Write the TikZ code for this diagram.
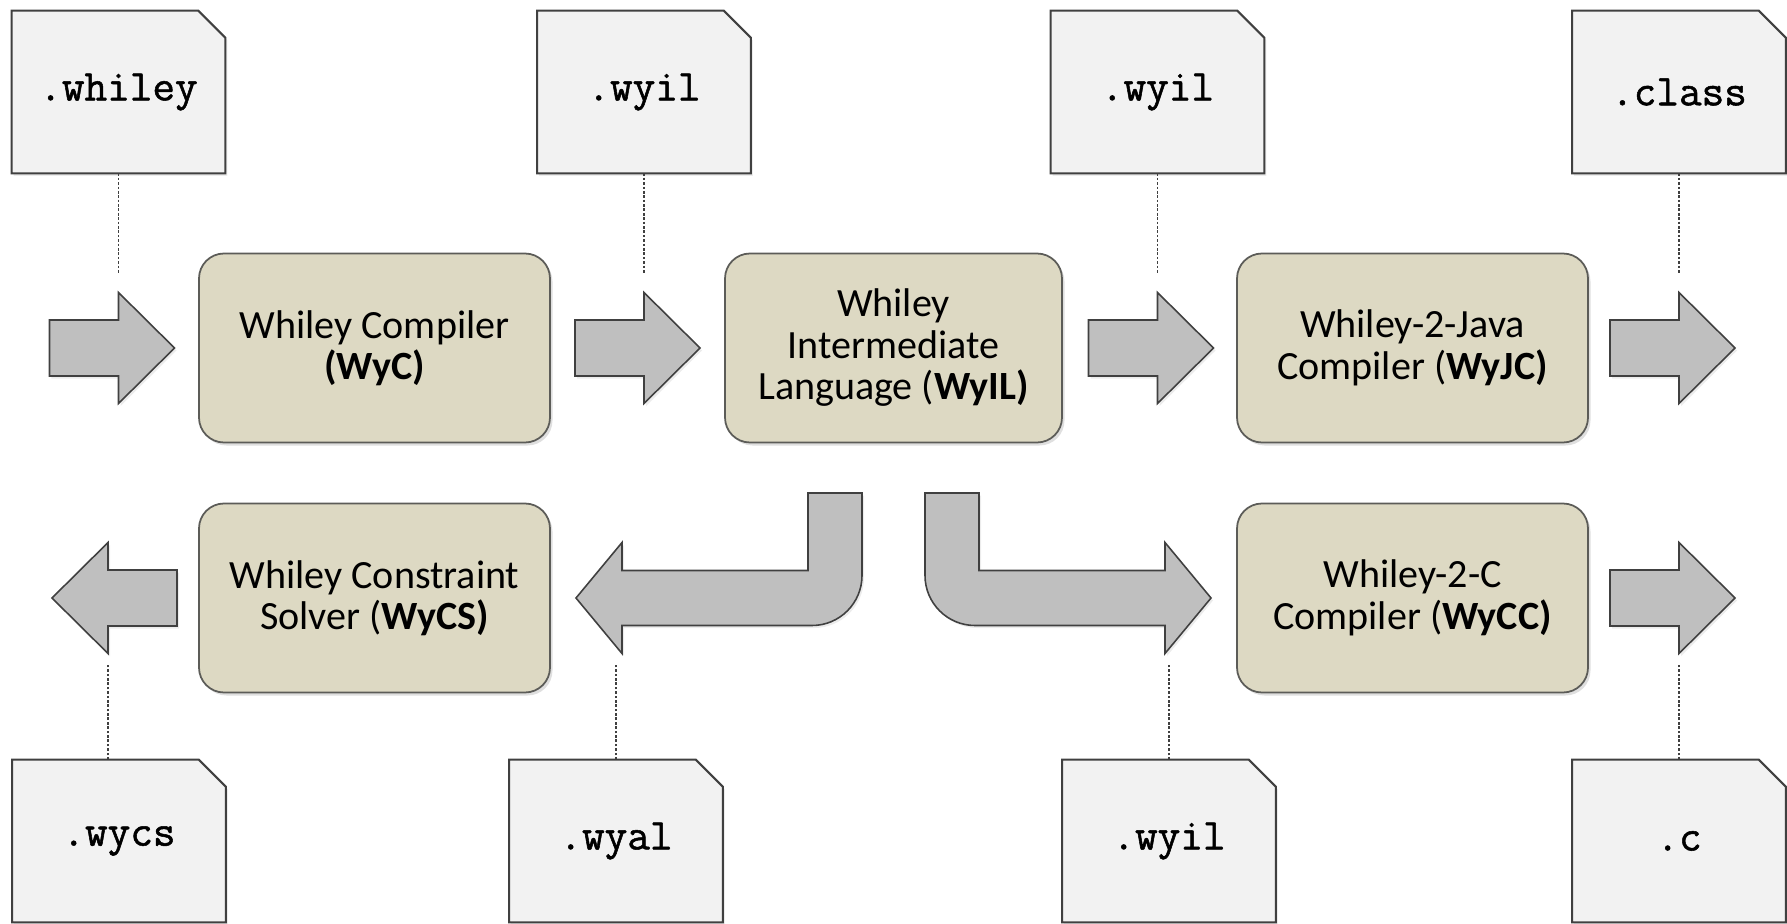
\documentclass[tikz,border=0pt]{standalone}
\usepackage{fontspec}
\setmainfont{Carlito}
\newfontfamily\docfont[FakeBold=1.2]{Latin Modern Mono}
\usetikzlibrary{shapes, positioning, backgrounds, shadows}
\definecolor{boxfill}{RGB}{221,217,195}
\definecolor{boxline}{RGB}{92,92,88}
\definecolor{docfill}{RGB}{242,242,242}
\definecolor{docline}{RGB}{64,64,64}
\definecolor{arrowfill}{RGB}{191,191,191}
\newcommand*{\docframe}[1]{%
  \begin{scope}[on background layer]
    \draw[docshape] (#1.south west) -- (#1.north west) -- ([xshift=-0.54cm]#1.north east)
      -- ([yshift=-0.54cm]#1.north east) -- (#1.south east) -- cycle;
  \end{scope}}
\newcommand*{\rarrow}[2][1]{%
  \draw[blockarrow, shift={(#2)}, xscale=#1] (-1.38,0.56) -- (0,0.56) -- (0,1.11) -- (1.12,0)
    -- (0,-1.11) -- (0,-0.56) -- (-1.38,-0.56) -- cycle;}
\newcommand*{\bentarrow}[2]{%
  \draw[blockarrow, shift={(#1)}, xscale=#2] (-1.71,2.1) -- (-0.63,2.1) -- (-0.63,0.45)
    arc[start angle=0, end angle=-90, radius=1] -- (-5.43,-0.55) -- (-5.43,-1.11)
    -- (-6.35,0) -- (-5.43,1.11) -- (-5.43,0.55) -- (-1.71,0.55) -- cycle;}

\begin{document}
\begin{tikzpicture}[
  box/.style={draw=boxline, fill=boxfill, line width=1pt, rounded corners=0.5cm,
    minimum width=7.02cm, minimum height=3.78cm, align=center,
    font={\fontsize{22.8}{23.6}\selectfont},
    drop shadow={shadow xshift=0.05cm, shadow yshift=-0.06cm, opacity=0.25}},
  doc/.style={minimum width=4.26cm, minimum height=3.24cm, inner sep=0pt,
    font={\docfont\fontsize{25}{27}\selectfont}},
  docshape/.style={draw=docline, fill=docfill, line width=1.2pt,
    drop shadow={shadow xshift=0.04cm, shadow yshift=-0.05cm, opacity=0.15}},
  blockarrow/.style={draw=docline, fill=arrowfill, line width=0.9pt, line join=miter,
    drop shadow={shadow xshift=0.04cm, shadow yshift=-0.05cm, opacity=0.15}},
  dotline/.style={draw=docline, line width=0.6pt, dash pattern=on 1.5pt off 1pt}]
\useasboundingbox (0,0) rectangle (35.74,18.46);

% files
\node[doc] (fwhiley) at (2.37,16.62) {.whiley};
\node[doc] (fwyil1) at (12.88,16.62) {.wyil};
\node[doc] (fwyil2) at (23.15,16.62) {.wyil};
\node[doc] (fclass) at (33.58,16.62) {.class};
\node[doc] (fwycs) at (2.38,1.64) {.wycs};
\node[doc] (fwyal) at (12.32,1.64) {.wyal};
\node[doc] (fwyil3) at (23.38,1.64) {.wyil};
\node[doc] (fc) at (33.58,1.64) {.c};
\foreach \f in {fwhiley,fwyil1,fwyil2,fclass,fwycs,fwyal,fwyil3,fc} \docframe{\f};

% compilers
\node[box] (wyc) at (7.49,11.5) {Whiley Compiler\\\textbf{(WyC)}};
\node[box, minimum width=6.74cm] (wyil) at (17.87,11.5) {Whiley\\Intermediate\\Language (\textbf{WyIL)}};
\node[box] (wyjc) at (28.25,11.5) {Whiley-2-Java\\Compiler (\textbf{WyJC)}};
\node[box] (wycsolver) at (7.49,6.5) {Whiley Constraint\\Solver (\textbf{WyCS)}};
\node[box] (wycc) at (28.25,6.5) {Whiley-2-C\\Compiler (\textbf{WyCC)}};

% block arrows
\foreach \f/\b in {fwhiley/wyc, fwyil1/wyil, fwyil2/wyjc, fclass/wyjc} \rarrow{\f |- \b};
\coordinate (lhead) at (2.16,6.5);
\rarrow[-1]{lhead}
\rarrow{fc |- wycc}
\coordinate (fork) at (wyil |- wycsolver);
\bentarrow{fork}{1}
\bentarrow{fork}{-1}

% dotted links
\foreach \f in {fwhiley,fwyil1,fwyil2,fclass}{
  \coordinate (\f-end) at ([yshift=-2cm]\f.south);
  \draw[dotline] (\f.south) -- (\f-end);
}
\foreach \f in {fwyal,fwyil3,fc}{
  \coordinate (\f-end) at ([yshift=1.9cm]\f.north);
  \draw[dotline] (\f.north) -- (\f-end);
}
\coordinate (fwycs-end) at ([yshift=1.9cm]lhead |- fwycs.north);
\draw[dotline] (lhead |- fwycs.north) -- (fwycs-end);
\end{tikzpicture}
\end{document}
